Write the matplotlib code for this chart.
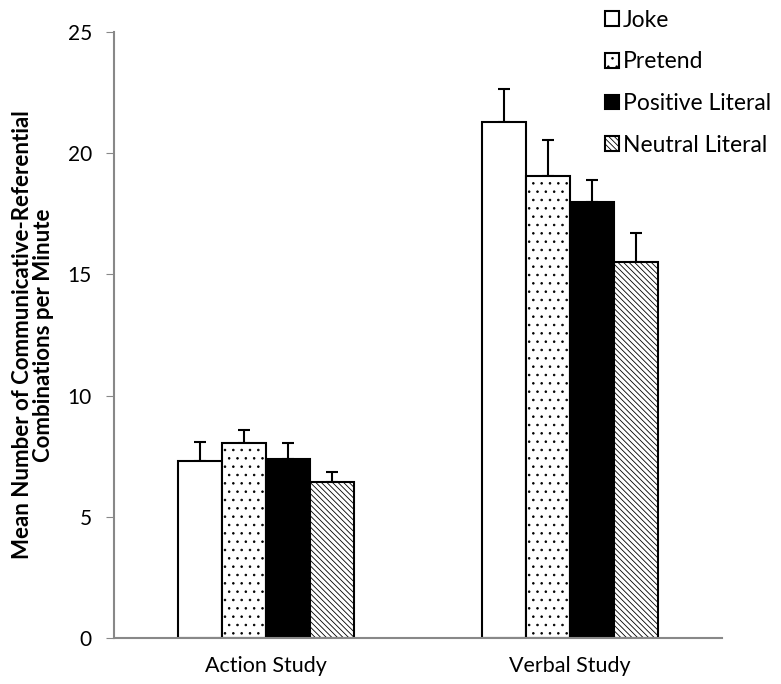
import matplotlib.pyplot as plt
import numpy as np

groups = ["Action Study", "Verbal Study"]
conditions = ["Joke", "Pretend", "Positive Literal", "Neutral Literal"]
means = {
    "Joke": [7.3, 21.3],
    "Pretend": [8.05, 19.05],
    "Positive Literal": [7.4, 18.0],
    "Neutral Literal": [6.45, 15.5],
}
errs = {
    "Joke": [0.8, 1.35],
    "Pretend": [0.55, 1.5],
    "Positive Literal": [0.65, 0.9],
    "Neutral Literal": [0.4, 1.2],
}

styles = {
    "Joke": dict(color="white", hatch=None),
    "Pretend": dict(color="white", hatch=".."),
    "Positive Literal": dict(color="black", hatch=None),
    "Neutral Literal": dict(color="white", hatch="\\\\\\\\\\\\"),
}

plt.rcParams['font.family'] = ['Lato', 'DejaVu Sans']
plt.rcParams['hatch.linewidth'] = 0.6

fig = plt.figure(figsize=(7.81, 6.84), dpi=100)
ax = fig.add_axes([0.146, 0.0673, 0.7785, 0.8857])

x = np.arange(len(groups))
w = 0.145
for i, c in enumerate(conditions):
    pos = x + (i - 1.5) * w
    ax.bar(pos, means[c], w, facecolor=styles[c]["color"], hatch=styles[c]["hatch"],
           edgecolor="black", linewidth=1.5, label=c, zorder=2)
    ax.errorbar(pos, means[c], yerr=[np.zeros(2), errs[c]], fmt="none",
                ecolor="black", elinewidth=1.5, capsize=4, capthick=1.5, zorder=1)

ax.set_xlim(-0.5, 1.5)
ax.set_ylim(0, 25)
ax.set_yticks([0, 5, 10, 15, 20, 25])
ax.set_yticklabels(["0", "5", "10", "15", "20", "25"], fontsize=15)
ax.set_xticks(x)
ax.set_xticklabels(groups, fontsize=15.5)
ax.tick_params(axis="x", length=0, pad=13)
ax.tick_params(axis="y", length=6, color="#888888", pad=10)
for s in ["top", "right"]:
    ax.spines[s].set_visible(False)
for s in ["left", "bottom"]:
    ax.spines[s].set_color("#888888")
    ax.spines[s].set_linewidth(1.5)
ax.set_ylabel("Mean Number of Communicative-Referential\nCombinations per Minute",
              fontsize=16, fontweight="bold", linespacing=1.05)
ax.yaxis.set_label_coords(-0.098, 0.5)

ax.legend(loc="upper left", bbox_to_anchor=(0.793, 1.052), frameon=False, fontsize=16.5,
          handlelength=0.6, handleheight=0.6, handletextpad=0.15, labelspacing=0.9,
          borderaxespad=0)

fig.savefig("out.png", dpi=100)
